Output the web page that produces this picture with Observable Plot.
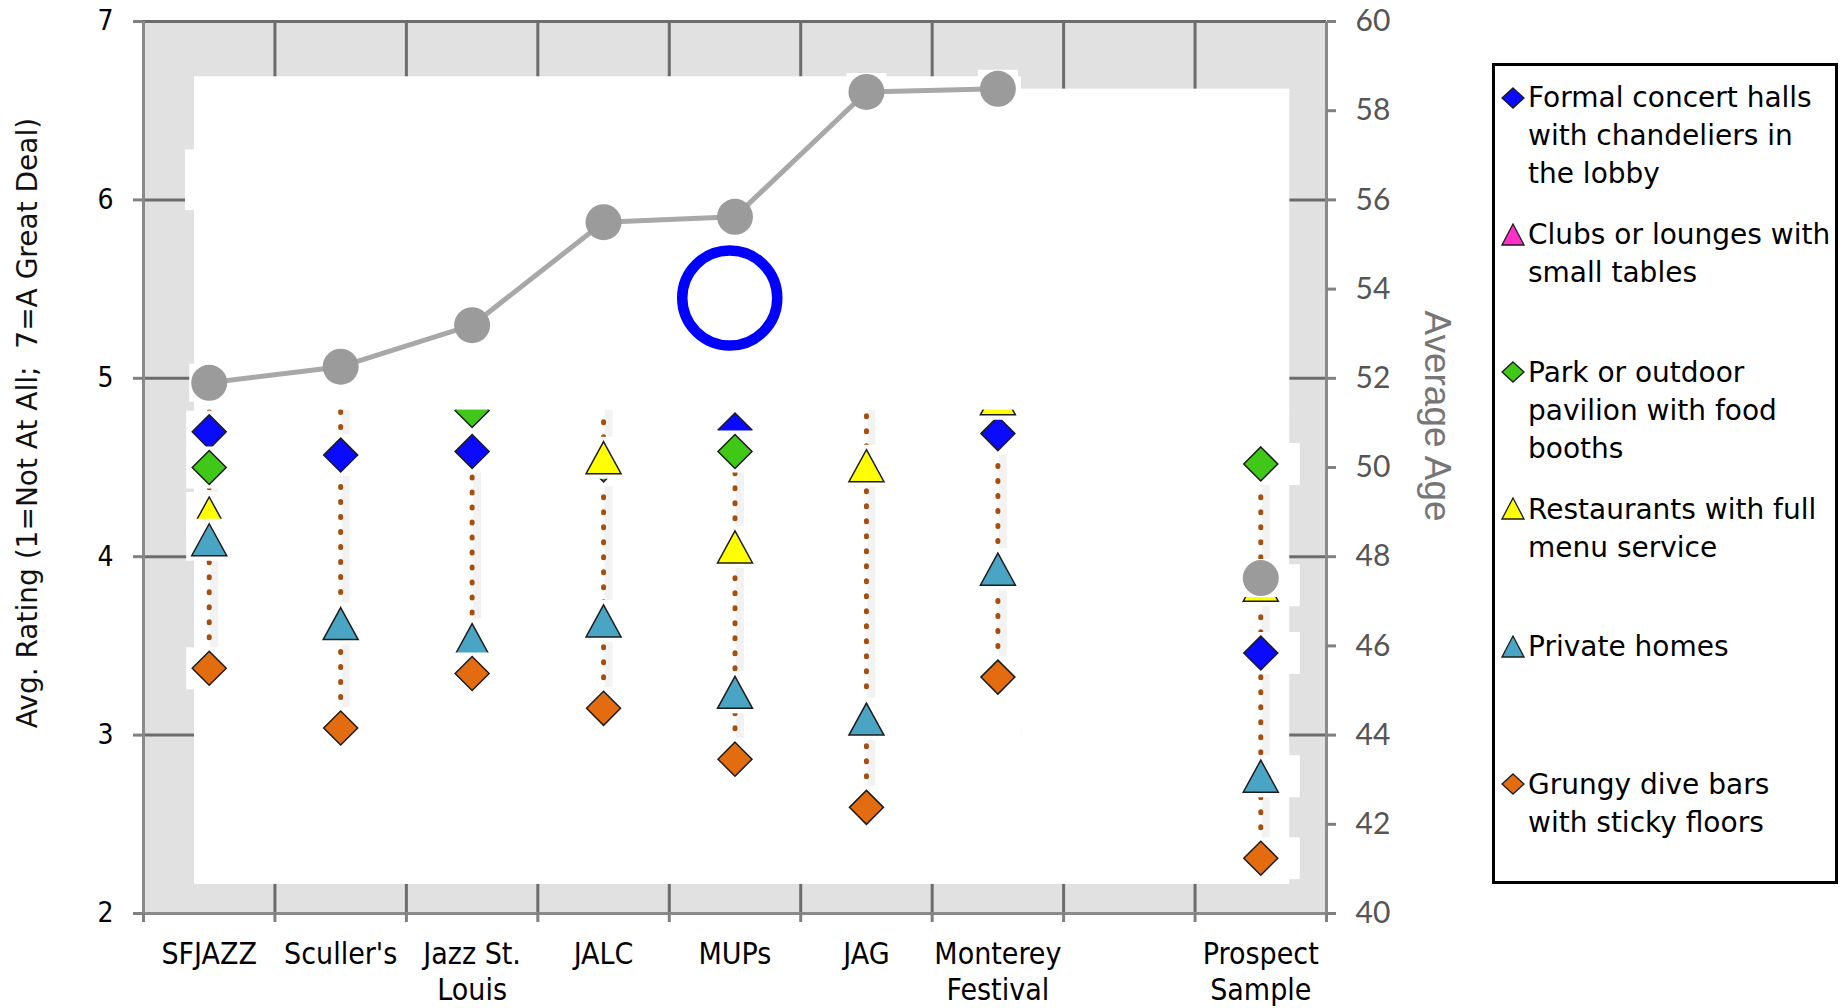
<!DOCTYPE html>
<html>
<head>
<meta charset="utf-8">
<script src="https://cdn.jsdelivr.net/npm/d3@7"></script>
<script src="https://cdn.jsdelivr.net/npm/@observablehq/plot@0.6"></script>
<style>
  html, body { margin: 0; padding: 0; background: #fff; }
  #wrap { position: relative; width: 1841px; height: 1008px; overflow: hidden; background: #fff; }
  #wrap svg { display: block; }
  #legend { position: absolute; left: 1492px; top: 63px; width: 346px; height: 821px; box-sizing: border-box;
            border: 3px solid #000; background: #fff; }
  .entry { position: absolute; left: 33px; font: 28px "DejaVu Sans", Verdana, sans-serif; line-height: 38px;
           color: #000; white-space: pre; }
  .mk { position: absolute; left: 6px; width: 24px; height: 24px; }
</style>
</head>
<body>
<div id="wrap"><div id="legend"></div></div>
<script>
// ---------- data ----------
const categories = ["SFJAZZ", "Sculler's", "Jazz St.\nLouis", "JALC", "MUPs", "JAG", "Monterey\nFestival", "", "Prospect\nSample"];
// Avg. rating (1 = Not At All, 7 = A Great Deal); null = not visible in the picture
const formalHalls    = [4.70, 4.57, 4.59, null, 4.71, null, 4.69, null, 3.46];
const parkPavilion   = [4.50, null, 4.82, 4.515, 4.59, null, null, null, 4.52];
const restaurants    = [4.245, null, null, 4.555, 4.055, 4.51, 4.885, null, 3.84];
const privateHomes   = [4.095, 3.625, 3.535, 3.64, 3.24, 3.09, 3.93, null, 2.77];
const diveBars       = [3.375, 3.04, 3.345, 3.15, 2.865, 2.595, 3.325, null, 2.31];
// visible top of each high-low (dotted) line
const rangeTop       = [4.82, 4.82, 4.82, 4.82, 4.82, 4.82, 4.82, null, 4.52];
// Average Age (right axis)
const averageAge     = [51.9, 52.26, 53.19, 55.5, 55.62, 58.42, 58.49, null, 47.52];
const ratingTicks    = [2, 3, 4, 5, 6, 7];
const ageTicks       = [40, 42, 44, 46, 48, 50, 52, 54, 56, 58, 60];
// highlight circle drawn on the chart (category index, rating)
const highlight      = [{x: 3.96, y: 5.45}];
// white areas pasted over the plot (category index units, rating units)
const whiteAreas = [
  {x1: -0.112, x2: 6.18, y1: 2.163, y2: 6.69},
  {x1: 6.18,   x2: 8.22, y1: 2.163, y2: 6.62},
  {x1: -0.18,  x2: -0.112, y1: 5.94, y2: 6.28}
];
const coverArea = [{x1: -0.112, x2: 8.22, y1: 4.822, y2: 6.62}];

const legendNames = [
  "Formal concert halls\nwith chandeliers in\nthe lobby",
  "Clubs or lounges with\nsmall tables",
  "Park or outdoor\npavilion with food\nbooths",
  "Restaurants with full\nmenu service",
  "Private homes",
  "Grungy dive bars\nwith sticky floors"
];
const legendColors = ["#0a0aff", "#ff2fc8", "#40c818", "#ffff00", "#4aa5c5", "#e46c10"];
const legendShapes = ["diamond", "triangle", "diamond", "triangle", "triangle", "diamond"];

// ---------- helpers ----------
const idx = d3.range(categories.length);
const ageToRating = a => 2 + (a - 40) / 4;
const pts = vals => idx.filter(i => vals[i] != null).map(i => ({x: i, y: vals[i]}));

const diamond = {draw(c) { c.moveTo(0, -17); c.lineTo(17, 0); c.lineTo(0, 17); c.lineTo(-17, 0); c.closePath(); }};
const triangle = {draw(c) { c.moveTo(0, -16); c.lineTo(17.5, 16); c.lineTo(-17.5, 16); c.closePath(); }};
const markerBox = {draw(c) { c.rect(-23, -21, 62, 42); }};
const pointBox = {draw(c) { c.rect(-20, -19, 40, 38); }};

const condensed = "'DejaVu Sans Condensed', 'Liberation Sans Narrow', 'DejaVu Sans', sans-serif";

const seriesDefs = [
  {values: formalHalls,  fill: legendColors[0], symbol: diamond},
  {values: parkPavilion, fill: legendColors[2], symbol: diamond},
  {values: restaurants,  fill: legendColors[3], symbol: triangle},
  {values: privateHomes, fill: legendColors[4], symbol: triangle},
  {values: diveBars,     fill: legendColors[5], symbol: diamond}
];

const ranges = idx.filter(i => rangeTop[i] != null).map(i => ({x: i, lo: diveBars[i], hi: rangeTop[i]}));
const ageData = idx.map(i => ({x: i, y: averageAge[i] == null ? NaN : ageToRating(averageAge[i])}));
const agePts = ageData.filter(d => !isNaN(d.y));

const seriesMarks = seriesDefs.flatMap(s => [
  Plot.dot(pts(s.values), {x: "x", y: "y", symbol: markerBox, r: 5, fill: "#fff", stroke: null}),
  Plot.dot(pts(s.values), {x: "x", y: "y", symbol: s.symbol, r: 5, fill: s.fill, stroke: "#1c1c1c", strokeWidth: 1.5})
]);

const plot = Plot.plot({
  width: 1841,
  height: 1008,
  marginLeft: 143,
  marginRight: 515,
  marginTop: 21,
  marginBottom: 95,
  x: {type: "linear", domain: [-0.5, 8.5]},
  y: {type: "linear", domain: [2, 7]},
  style: {background: "transparent", overflow: "visible"},
  marks: [
    Plot.frame({fill: "#e1e1e1", stroke: null}),
    Plot.ruleX(d3.range(0.5, 8, 1), {stroke: "#6c6c6c", strokeWidth: 3}),
    Plot.ruleY(ratingTicks.slice(1), {stroke: "#6c6c6c", strokeWidth: 3}),
    Plot.rect(whiteAreas, {x1: "x1", x2: "x2", y1: "y1", y2: "y2", fill: "#fff"}),
    // high-low dotted lines (with faint shadow)
    Plot.ruleX(ranges, {x: "x", y1: "lo", y2: "hi", stroke: "#000", strokeOpacity: 0.05, strokeWidth: 8, dx: 5}),
    Plot.ruleX(ranges, {x: "x", y1: "lo", y2: "hi", stroke: "#a54e0d", strokeWidth: 5,
                        strokeDasharray: "1 14", strokeLinecap: "round"}),
    ...seriesMarks,
    Plot.rect(coverArea, {x1: "x1", x2: "x2", y1: "y1", y2: "y2", fill: "#fff"}),
    // average age
    Plot.dot(agePts, {x: "x", y: "y", symbol: pointBox, r: 5, fill: "#fff", stroke: null}),
    Plot.line(ageData, {x: "x", y: "y", stroke: "#a8a8a8", strokeWidth: 5}),
    Plot.dot(agePts, {x: "x", y: "y", r: 18, fill: "#9b9b9b", stroke: null}),
    Plot.dot(highlight, {x: "x", y: "y", r: 47.5, fill: "none", stroke: "#0000ff", strokeWidth: 10.5}),
    // axis lines
    Plot.ruleX([-0.5, 8.5], {stroke: "#8a8a8a", strokeWidth: 3}),
    Plot.ruleY([2], {stroke: "#8a8a8a", strokeWidth: 3}),
    // axes
    Plot.axisY(ratingTicks, {anchor: "left", tickSize: 10, tickPadding: 20, stroke: "#808080", strokeWidth: 3,
                             tickFormat: d => String(d),
                             fill: "#000", fontSize: 28, fontFamily: condensed, label: null}),
    Plot.axisY(ageTicks.map(ageToRating), {anchor: "right", tickSize: 9, tickPadding: 20, stroke: "#808080", strokeWidth: 3,
                             tickFormat: r => String(Math.round(40 + (r - 2) * 4)),
                             fill: "#555", fontSize: 30, fontFamily: "Lato, sans-serif", label: null}),
    Plot.axisX(d3.range(-0.5, 9, 1), {anchor: "bottom", tickSize: 9, stroke: "#808080", strokeWidth: 3,
                             tickFormat: () => "", label: null}),
    Plot.axisX(idx, {anchor: "bottom", tickSize: 0, tickPadding: 24, tickFormat: i => categories[i],
                     fill: "#000", fontSize: 30, fontFamily: condensed, lineHeight: 1.22, label: null})
  ]
});

const wrap = document.getElementById("wrap");
wrap.insertBefore(plot, wrap.firstChild);

// axis titles
const svg = d3.select(plot);
svg.append("text")
  .attr("transform", "translate(37,423) rotate(-90)")
  .attr("text-anchor", "middle")
  .attr("fill", "#111")
  .style("font", "28px 'DejaVu Sans', sans-serif")
  .style("white-space", "pre")
  .text("Avg. Rating (1=Not At All;  7=A Great Deal)");
svg.append("text")
  .attr("transform", "translate(1425,416) rotate(90)")
  .attr("text-anchor", "middle")
  .attr("fill", "#767676")
  .style("font", "37px 'Liberation Sans', Arial, sans-serif")
  .text("Average Age");

// legend
const legend = document.getElementById("legend");
legendNames.forEach((name, k) => {
  const top = 13 + k * 137.3;
  const e = document.createElement("div");
  e.className = "entry";
  e.style.top = top + "px";
  e.textContent = name;
  legend.appendChild(e);
  const path = legendShapes[k] === "diamond" ? "M12,2 L23,12 L12,22 L1,12 Z" : "M12,1 L23,22 L1,22 Z";
  const m = document.createElementNS("http://www.w3.org/2000/svg", "svg");
  m.setAttribute("class", "mk");
  m.setAttribute("viewBox", "0 0 24 24");
  m.style.top = (top + 18.5 - 12) + "px";
  m.innerHTML = `<path d="${path}" fill="${legendColors[k]}" stroke="#1c1c1c" stroke-width="1.3"/>`;
  legend.appendChild(m);
});
</script>
</body>
</html>
